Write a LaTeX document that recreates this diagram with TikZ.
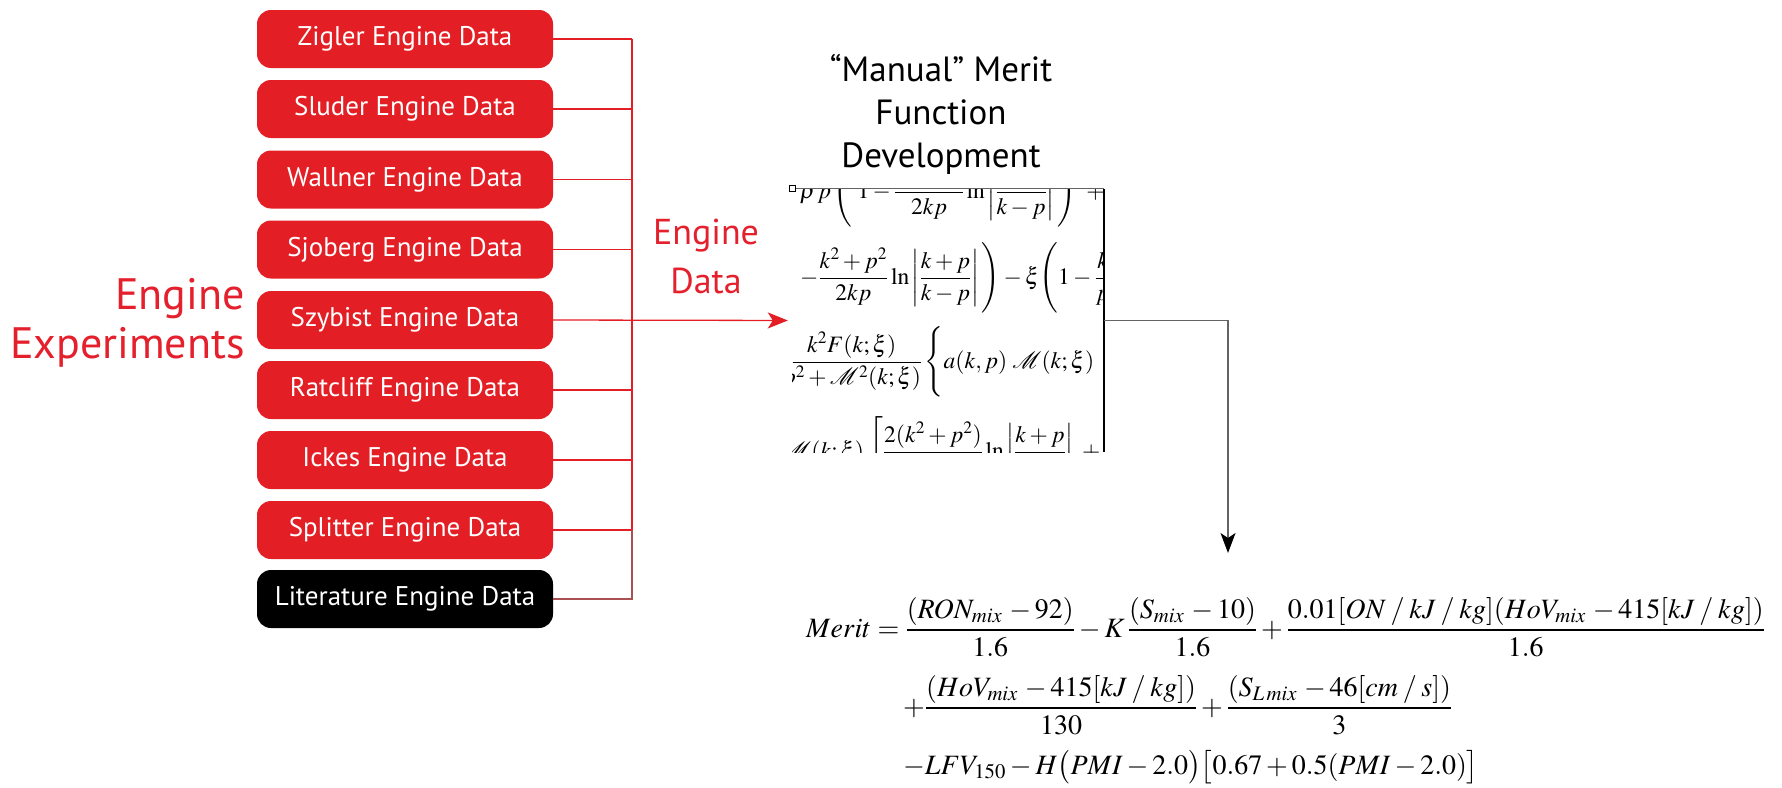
\documentclass[tikz,border=0pt]{standalone}
\usepackage{mathptmx}
\usepackage[no-math]{fontspec}
\setmainfont{PT Sans}
\usetikzlibrary{arrows.meta}
\definecolor{boxred}{RGB}{227,30,36}
\definecolor{labred}{RGB}{228,32,45}
\definecolor{busgray}{RGB}{170,80,80}
\definecolor{conngray}{RGB}{100,100,100}
\newcommand{\mysl}{\mskip3mu/\mskip3mu}
\tikzset{
  databox/.style={rounded corners=14pt, fill=boxred, text=white, minimum width=296pt,
    minimum height=58pt, inner sep=0pt, font=\fontsize{27}{32}\selectfont},
  litbox/.style={databox, fill=black},
  bigred/.style={text=labred, inner sep=0pt},
  redline/.style={draw=boxred, line width=1.3pt},
  busline/.style={draw=busgray, line width=1.3pt},
  conn/.style={draw=conngray, line width=1.6pt},
  mathfont/.style={font=\fontsize{23.5}{28}\selectfont, inner sep=0pt},
  meritfont/.style={font=\fontsize{28}{33}\selectfont, inner sep=0pt}
}
\begin{document}
\begin{tikzpicture}[x=1pt,y=-1pt]
\useasboundingbox (0,0) rectangle (1782,787);

% data boxes
\node[databox] (b1) at (405,39)  {Zigler Engine Data};
\node[databox] (b2) at (405,109) {Sluder Engine Data};
\node[databox] (b3) at (405,179.5) {Wallner Engine Data};
\node[databox] (b4) at (405,249.5) {Sjoberg Engine Data};
\node[databox] (b5) at (405,320) {Szybist Engine Data};
\node[databox] (b6) at (405,390) {Ratcliff Engine Data};
\node[databox] (b7) at (405,460) {Ickes Engine Data};
\node[databox] (b8) at (405,530) {Splitter Engine Data};
\node[litbox]  (b9) at (405,599) {Literature Engine Data};

\coordinate (bus) at (632,0);

% labels
\node[bigred, font=\fontsize{44}{49}\selectfont, align=right, anchor=east] (exp) at (245,323) {Engine\\Experiments};
\node[bigred, font=\fontsize{36}{49}\selectfont, align=center] (ed) at (706,256) {Engine\\Data};
\node[font=\fontsize{35}{43}\selectfont, align=center, inner sep=0pt] (title) at (941,114)
  {“Manual” Merit\\Function\\Development};

% math picture
\node[minimum width=311pt, minimum height=263pt, inner sep=0pt] (img) at (948.5,320.5) {};
\begin{scope}
\clip (img.north west) rectangle (img.south east);
\node[mathfont, anchor=base west] (ma) at (800,198)
  {$\displaystyle \rho\,p\,\Bigg(\;1-\frac{k^2+p^2}{2kp}\ln\left|\frac{k+p}{k-p}\right|\Bigg)\;\;+$};
\node[mathfont, anchor=base west] (mb) at (800,284)
  {$\displaystyle -\frac{k^2+p^2}{2kp}\ln\left|\frac{k+p}{k-p}\right|\Bigg)-\xi\Bigg(1-\frac{k^2}{p^2}\Bigg)$};
\node[mathfont, anchor=base west] (mc) at (781,368)
  {$\displaystyle \frac{k^2F(k;\xi)}{p^2+\mathcal{M}^2(k;\xi)}\,\Bigg\{a(k,p)\;\mathcal{M}(k;\xi)$};
\node[mathfont, anchor=base west] (md) at (782,458)
  {$\displaystyle \mathcal{M}(k;\xi)\;\Bigg[\frac{2(k^2+p^2)}{2kp}\ln\left|\frac{k+p}{k-p}\right|\;+\;\frac{k}{p}$};
\end{scope}
\draw[draw=conngray, line width=1pt] (img.north west) -- (img.north east);
\draw[black, line width=1.8pt] (img.north east) -- (img.south east);
\draw[black, fill=white, line width=0.8pt] ([shift={(-3,-3)}]img.north west) rectangle ([shift={(3,3)}]img.north west);

% formula
\node[meritfont, anchor=base west] (m1) at (806,637)
  {$\displaystyle Merit=\frac{(RON_{mix}\,-92)}{1.6}-K\,\frac{(S_{mix}\,-10)}{1.6}+\frac{0.01[ON\mysl kJ\mysl kg](HoV_{mix}\,-415[kJ\mysl kg])}{1.6}$};
\node[meritfont, anchor=base west] (m2) at (903,715)
  {$\displaystyle +\frac{(HoV_{mix}\,-415[kJ\mysl kg])}{130}+\frac{(S_{L\,mix}\,-46[cm\mysl s])}{3}$};
\node[meritfont, anchor=base west] (m3) at (903,774)
  {$\displaystyle -LFV_{150}-H\bigl(PMI-2.0\bigr)\bigl[0.67+0.5(PMI-2.0)\bigr]$};

% connectors
\foreach \i in {1,2,3,4,6,7,8} \draw[redline] (b\i.east) -- (b\i.east -| bus);
\draw[redline] (b1.east -| bus) -- (b8.east -| bus);
\draw[busline] (b8.east -| bus) -- (b9.east -| bus) -- (b9.east);
\draw[redline, -{Stealth[length=20pt,width=16pt,inset=5pt]}, shorten >=5pt] (b5.east) -- (img.west);
\coordinate (mtop) at (1228,553);
\draw[conn, -{Stealth[length=20pt,width=15pt,inset=5pt,black]}] (img.east) -| (mtop);
\end{tikzpicture}
\end{document}
